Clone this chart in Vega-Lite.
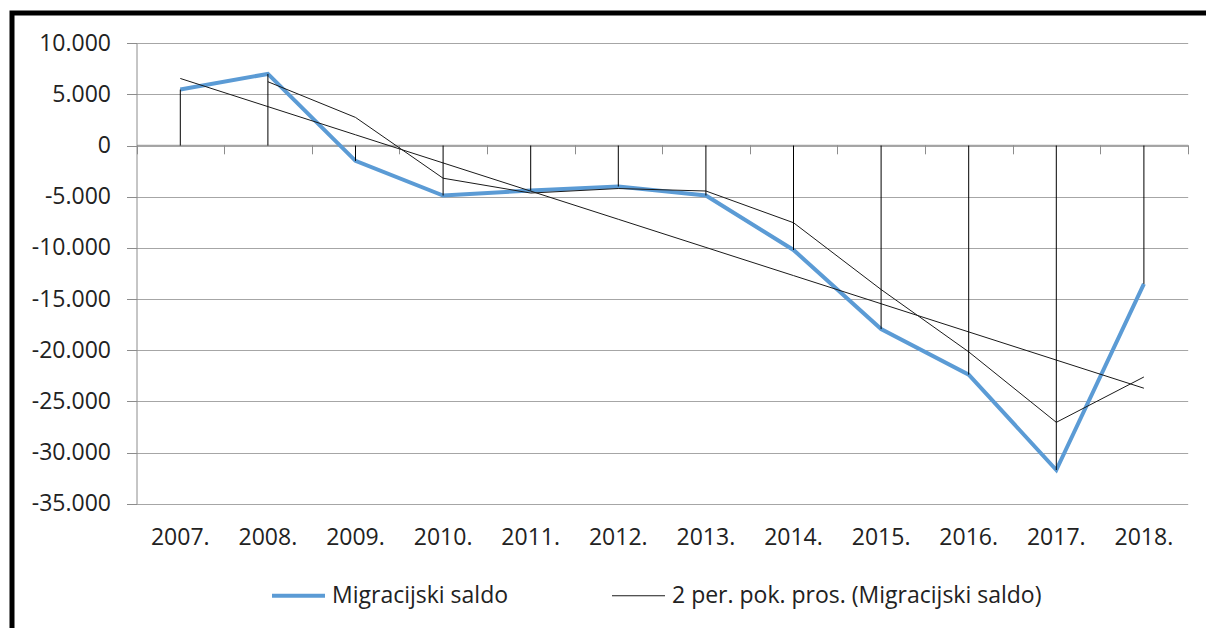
{
  "$schema": "https://vega.github.io/schema/vega-lite/v6.json",
  "width": 1195,
  "height": 615,
  "autosize": {"type": "none"},
  "padding": {"left": 12, "top": 13, "right": 0, "bottom": 0},
  "background": "white",
  "config": {
    "view": {"stroke": "#000000", "strokeWidth": 5, "strokeDash": [1194, 1811, 615]},
    "font": "Open Sans"
  },
  "data": {
    "values": [
      {"year": "2007.", "series": "Migracijski saldo", "value": 5470},
      {"year": "2008.", "series": "Migracijski saldo", "value": 7000},
      {"year": "2009.", "series": "Migracijski saldo", "value": -1500},
      {"year": "2010.", "series": "Migracijski saldo", "value": -4880},
      {"year": "2011.", "series": "Migracijski saldo", "value": -4400},
      {"year": "2012.", "series": "Migracijski saldo", "value": -4000},
      {"year": "2013.", "series": "Migracijski saldo", "value": -4880},
      {"year": "2014.", "series": "Migracijski saldo", "value": -10200},
      {"year": "2015.", "series": "Migracijski saldo", "value": -17930},
      {"year": "2016.", "series": "Migracijski saldo", "value": -22380},
      {"year": "2017.", "series": "Migracijski saldo", "value": -31700},
      {"year": "2018.", "series": "Migracijski saldo", "value": -13520},
      {"year": "2008.", "series": "2 per. pok. pros. (Migracijski saldo)", "value": 6235},
      {"year": "2009.", "series": "2 per. pok. pros. (Migracijski saldo)", "value": 2750},
      {"year": "2010.", "series": "2 per. pok. pros. (Migracijski saldo)", "value": -3190},
      {"year": "2011.", "series": "2 per. pok. pros. (Migracijski saldo)", "value": -4640},
      {"year": "2012.", "series": "2 per. pok. pros. (Migracijski saldo)", "value": -4200},
      {"year": "2013.", "series": "2 per. pok. pros. (Migracijski saldo)", "value": -4440},
      {"year": "2014.", "series": "2 per. pok. pros. (Migracijski saldo)", "value": -7540},
      {"year": "2015.", "series": "2 per. pok. pros. (Migracijski saldo)", "value": -14065},
      {"year": "2016.", "series": "2 per. pok. pros. (Migracijski saldo)", "value": -20155},
      {"year": "2017.", "series": "2 per. pok. pros. (Migracijski saldo)", "value": -27040},
      {"year": "2018.", "series": "2 per. pok. pros. (Migracijski saldo)", "value": -22610},
      {"year": "2007.", "series": "Trend", "value": 6555},
      {"year": "2008.", "series": "Trend", "value": 3804},
      {"year": "2009.", "series": "Trend", "value": 1052},
      {"year": "2010.", "series": "Trend", "value": -1699},
      {"year": "2011.", "series": "Trend", "value": -4450},
      {"year": "2012.", "series": "Trend", "value": -7202},
      {"year": "2013.", "series": "Trend", "value": -9953},
      {"year": "2014.", "series": "Trend", "value": -12704},
      {"year": "2015.", "series": "Trend", "value": -15455},
      {"year": "2016.", "series": "Trend", "value": -18207},
      {"year": "2017.", "series": "Trend", "value": -20958},
      {"year": "2018.", "series": "Trend", "value": -23709}
    ]
  },
  "layer": [
    {
      "transform": [{"filter": "datum.series === 'Migracijski saldo'"}],
      "mark": {"type": "line", "strokeWidth": 4, "strokeCap": "butt", "strokeJoin": "miter"},
      "encoding": {
        "x": {
          "field": "year", "type": "nominal", "sort": null,
          "scale": {"type": "band", "range": [124.5, 1175.7], "paddingInner": 0, "paddingOuter": 0},
          "axis": {
            "orient": "bottom", "offset": -124.2, "title": null,
            "domain": false, "ticks": false, "tickSize": 0, "grid": false,
            "labelAngle": 0, "labelFont": "Open Sans", "labelFontSize": 23,
            "labelColor": "#222222", "labelBaseline": "middle", "labelPadding": 34
          }
        },
        "y": {
          "field": "value", "type": "quantitative",
          "scale": {"domain": [-35000, 10000], "range": [490.8, 30.2], "nice": false, "zero": false},
          "axis": {
            "orient": "left", "offset": -124.5, "title": null,
            "values": [10000, 5000, 0, -5000, -10000, -15000, -20000, -25000, -30000, -35000],
            "labelExpr": "datum.value == 0 ? '0' : (datum.value < 0 ? '-' : '') + format(abs(datum.value) / 1000, 'd') + '.000'",
            "labelFont": "Open Sans", "labelFontSize": 23, "labelColor": "#222222",
            "labelPadding": 16, "tickSize": 10, "tickColor": "#8c8c8c",
            "domainColor": "#8c8c8c", "grid": true, "gridColor": "#a6a6a6", "gridWidth": 1
          }
        },
        "color": {
          "field": "series", "type": "nominal",
          "scale": {"domain": ["Migracijski saldo", "2 per. pok. pros. (Migracijski saldo)"], "range": ["#5B9BD5", "#1a1a1a"]},
          "legend": {
            "orient": "none", "legendX": 260, "legendY": 571, "direction": "horizontal",
            "title": null, "symbolType": "stroke", "symbolSize": 2809,
            "symbolOffset": 15,
            "labelFont": "Open Sans", "labelFontSize": 23, "labelColor": "#222222",
            "labelOffset": 22, "columnPadding": 101, "labelLimit": 600,
            "encode": {
              "symbols": {
                "update": {
                  "strokeWidth": {"signal": "datum.value === 'Migracijski saldo' ? 4 : 1"}
                }
              }
            }
          }
        }
      }
    },
    {
      "transform": [{"filter": "datum.series === '2 per. pok. pros. (Migracijski saldo)'"}],
      "mark": {"type": "line", "strokeWidth": 1},
      "encoding": {
        "x": {
          "field": "year", "type": "nominal", "sort": null,
          "axis": {
            "orient": "bottom", "offset": -483.2, "title": null,
            "labels": false, "ticks": true, "tickBand": "extent", "tickSize": 9,
            "tickColor": "#8c8c8c", "domain": true, "domainColor": "#8c8c8c", "grid": false
          }
        },
        "y": {"field": "value", "type": "quantitative"},
        "color": {"field": "series", "type": "nominal"}
      }
    },
    {
      "transform": [{"filter": "datum.series === 'Trend'"}],
      "mark": {"type": "line", "color": "#1a1a1a", "strokeWidth": 1},
      "encoding": {
        "x": {"field": "year", "type": "nominal", "sort": null, "axis": null},
        "y": {"field": "value", "type": "quantitative"}
      }
    },
    {
      "transform": [{"filter": "datum.series === 'Migracijski saldo'"}],
      "mark": {"type": "rule", "color": "#000000", "strokeWidth": 1},
      "encoding": {
        "x": {"field": "year", "type": "nominal", "sort": null, "axis": null},
        "y": {"field": "value", "type": "quantitative"},
        "y2": {"datum": 0}
      }
    }
  ],
  "resolve": {"axis": {"x": "independent"}}
}
